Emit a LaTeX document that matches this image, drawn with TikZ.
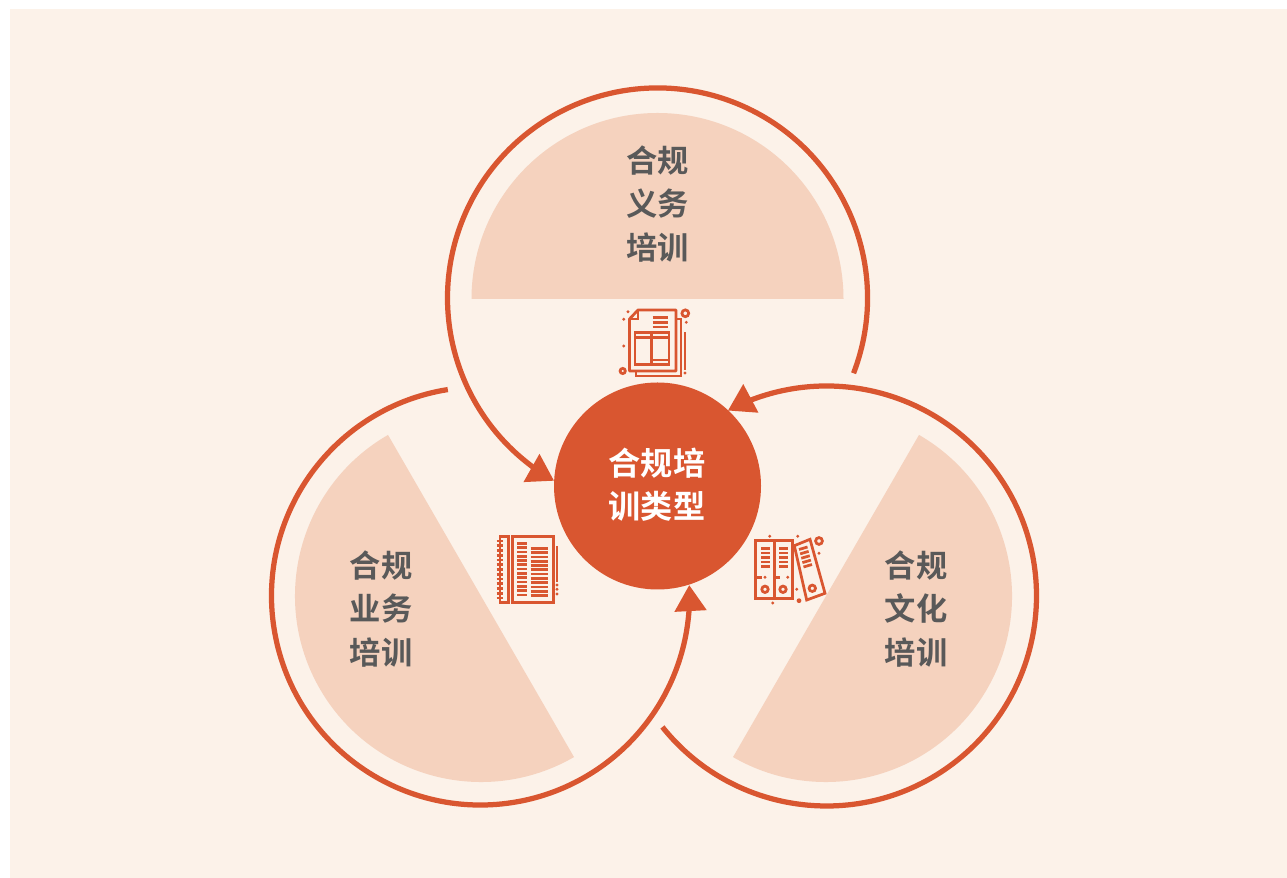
\documentclass[tikz,border=0pt]{standalone}
\usepackage{fontspec}
\newfontfamily\cjk{Noto Sans CJK SC}[BoldFont={Noto Sans CJK SC Bold}]
\usepackage{tikz}
\usetikzlibrary{arrows.meta}

\definecolor{creamback}{HTML}{FCF2E9}
\definecolor{rustred}{HTML}{D95630}
\definecolor{peachfill}{HTML}{F5D2BE}
\definecolor{slatetext}{HTML}{595959}

\tikzset{
    ringarc/.style={draw=rustred, line width=0.105cm, -{Triangle[length=0.52cm,width=0.62cm]}},
    halfdisc/.style={fill=peachfill},
    grouplabel/.style={text=slatetext, align=center, font=\cjk\bfseries\fontsize{17.8}{24.8}\selectfont},
    hublabel/.style={text=white, align=center, font=\cjk\bfseries\fontsize{18.3}{24.4}\selectfont},
    iconline/.style={draw=rustred, line width=0.055cm},
    icondot/.style={fill=rustred},
}

\begin{document}
\begin{tikzpicture}[x=0.02cm, y=0.02cm]
    \useasboundingbox (0,0) rectangle (1287,878);
    \fill[creamback] (10,0) rectangle (1287,869);

    % Mittelpunkte
    \coordinate (topc) at (657.5,580);
    \coordinate (topd) at (657.5,579);
    \coordinate (leftc) at (481,282);
    \coordinate (leftr) at (480.5,282);
    \coordinate (rightc) at (826,282);
    \coordinate (rightr) at (826.5,282);

    % Halbkreise
    \fill[halfdisc] ([shift={(0:186)}]topd) arc[start angle=0, end angle=180, radius=186] -- cycle;
    \fill[halfdisc] ([shift={(120:186)}]leftc) arc[start angle=120, end angle=300, radius=186] -- cycle;
    \fill[halfdisc] ([shift={(-120:186)}]rightc) arc[start angle=-120, end angle=60, radius=186] -- cycle;

    % Ringe mit Pfeilen
    \draw[ringarc] ([shift={(-21:210)}]topc) arc[start angle=-21, end angle=231, radius=210] arc[start angle=231, end angle=240.5, radius=210];
    \draw[ringarc] ([shift={(99:209)}]leftr) arc[start angle=99, end angle=354, radius=209] arc[start angle=354, end angle=363, radius=209];
    \draw[ringarc] ([shift={(218.6:210)}]rightr) arc[start angle=218.6, end angle=469, radius=210] arc[start angle=469, end angle=478, radius=210];

    % Zentrum
    \fill[rustred] (657.5,392) circle (103.5);
    \node[hublabel] (hub) at (657,393) {合规培\\训类型};

    % Beschriftungen
    \node[grouplabel] (toplabel) at (657.5,674) {合规\\义务\\培训};
    \node[grouplabel] (leftlabel) at (381,269) {合规\\业务\\培训};
    \node[grouplabel] (rightlabel) at (916,269) {合规\\文化\\培训};

    % Dokument
    \begin{scope}[shift={(600,583)}, yscale=-1]
        \draw[iconline, line join=round] (38,15) -- (76,15) -- (76,76) -- (29.5,76) -- (29.5,24) -- cycle;
        \draw[iconline] (38,15) -- (38,24) -- (29.5,24);
        \draw[iconline] (76,24) -- (81,24) -- (81,81) -- (36,81) -- (36,76);
        \foreach \y in {22.7,27.3,32} \draw[iconline] (52.7,\y) -- (68,\y);
        \draw[iconline] (35,37.3) rectangle (69,69.3);
        \draw[iconline] (35,42.3) -- (69,42.3);
        \draw[iconline] (51.7,37.3) -- (51.7,69.3);
        \draw[iconline] (51.7,65) -- (69,65);
        \draw[iconline] (85,37.3) -- (85,75);
        \draw[iconline] (22.7,76) circle (2.6);
        \draw[iconline] (85.3,18.3) circle (3.4);
        \foreach \p in {(28,16.7),(23.7,24.3),(23.7,51),(86.3,27.3),(85,78)} \fill[icondot] \p circle (1.6);
    \end{scope}

    % Notizbuch
    \begin{scope}[shift={(480,358)}, yscale=-1]
        \draw[iconline] (20,16.7) rectangle (28.6,82.7);
        \draw[iconline] (32.8,16.7) rectangle (73.3,82.7);
        \foreach \y in {21,25.75,...,78.5} \draw[iconline] (16.5,\y) -- (23,\y);
        \foreach \y in {23.3,27.6,...,77} \draw[iconline] (37.3,\y) -- (46.7,\y);
        \foreach \y in {28.3,32.6,...,77} \draw[iconline] (50.7,\y) -- (68.3,\y);
        \draw[iconline] (77,26) -- (77,61.7);
        \foreach \y in {65,69.3,74} \fill[icondot] (77,\y) circle (1.6);
    \end{scope}

    % Ordner
    \begin{scope}[shift={(745,353)}, yscale=-1]
        \draw[iconline] (10.7,15.7) rectangle (29.3,73.3);
        \draw[iconline] (29.3,15.7) rectangle (47.3,73.3);
        \draw[iconline] (49.3,20.7) -- (65,14.3) -- (80,68.3) -- (61.7,75) -- cycle;
        \foreach \y in {23.3,27.9,...,42} {
            \draw[iconline] (16,\y) -- (24.7,\y);
            \draw[iconline] (34,\y) -- (42.7,\y);
        }
        \foreach \t in {0,0.25,...,1}
            \draw[iconline] ({54+4.5*\t},{24.5+17.5*\t}) -- ({62.5+4.5*\t},{22+17.5*\t});
        \draw[iconline] (10.7,52.3) -- (16.7,52.3);
        \draw[iconline] (29.3,52.3) -- (35,52.3);
        \draw[iconline] (20,64.3) circle (3.2);
        \draw[iconline] (38,64.3) circle (3.2);
        \draw[iconline] (67.3,63.3) circle (3.2);
        \draw[iconline] (74,16) circle (3.4);
        \foreach \p in {(20,52.3),(42.7,52.3),(24.7,11.3),(52.7,11.3),(74,28.3),(51.7,64.3),(27.7,78)} \fill[icondot] \p circle (1.6);
        \fill[icondot] (54,75.7) circle (2.4);
    \end{scope}
\end{tikzpicture}
\end{document}
